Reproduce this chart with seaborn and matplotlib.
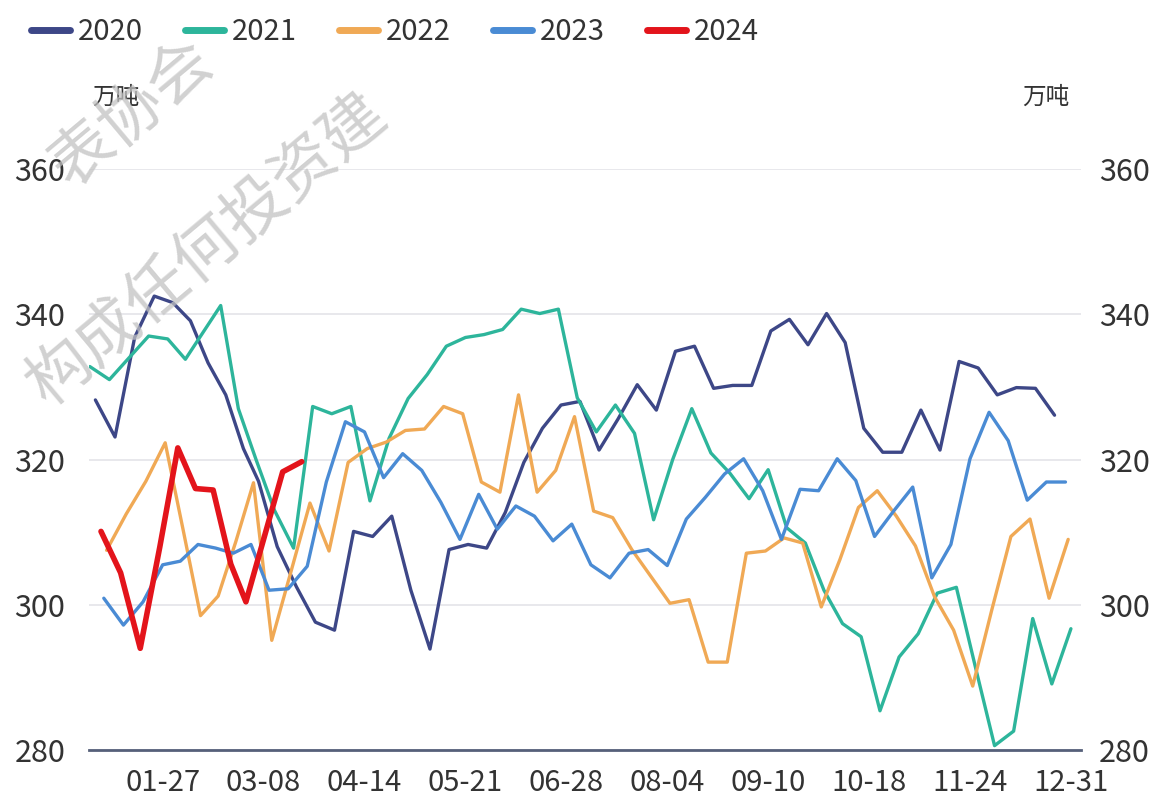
import numpy as np
import pandas as pd
import matplotlib
matplotlib.use("Agg")
import matplotlib.pyplot as plt
import seaborn as sns

YEARS = ["2020", "2021", "2022", "2023", "2024"]
COLORS = {"2020": "#3d4787", "2021": "#2db59b", "2022": "#f0a955",
          "2023": "#4a8bd4", "2024": "#e3141b"}
WIDTHS = {"2020": 2.4, "2021": 2.4, "2022": 2.4, "2023": 2.4, "2024": 4.0}

# category axis labels (evenly spaced) and the day-of-year they stand for
TICK_LABELS = ["01-27", "03-08", "04-14", "05-21", "06-28", "08-04", "09-10", "10-18", "11-24", "12-31"]
TICK_DOY = [27, 67, 104, 141, 179, 216, 253, 291, 328, 365]

# weekly (Friday) values, 万吨
V2020 = [328.2, 323.1, 336.8, 342.5, 341.6, 339.1, 333.3, 328.9, 321.5, 317.0,
         308.0, 302.5, 297.6, 296.5, 310.1, 309.4, 312.2, 302.0, 293.9, 307.6,
         308.3, 307.8, 312.7, 319.6, 324.3, 327.5, 328.0, 321.3, 325.6, 330.3,
         326.8, 334.9, 335.6, 329.8, 330.2, 330.2, 337.7, 339.3, 335.8, 340.1,
         336.1, 324.3, 321.0, 321.0, 326.8, 321.3, 333.5, 332.6, 328.9, 329.9,
         329.8, 326.1]
V2021 = [332.8, 331.0, 334.0, 337.0, 336.6, 333.8, 337.5, 341.2, 327.0, 320.0,
         313.0, 307.8, 327.3, 326.3, 327.3, 314.3, 322.9, 328.4, 331.7, 335.6,
         336.8, 337.2, 337.9, 340.7, 340.1, 340.7, 328.5, 323.8, 327.5, 323.6,
         311.7, 320.0, 327.0, 320.9, 318.1, 314.6, 318.6, 310.6, 308.5, 302.0,
         297.4, 295.6, 285.4, 292.8, 296.0, 301.6, 302.4, 291.4, 280.6, 282.6,
         298.1, 289.1, 296.7]
V2022 = [307.5, 312.5, 317.0, 322.3, 310.5, 298.5, 301.2, 308.7, 316.8, 295.1,
         304.5, 314.0, 307.4, 319.6, 321.5, 322.4, 324.0, 324.2, 327.3, 326.3,
         316.9, 315.5, 328.9, 315.5, 318.5, 325.9, 312.9, 312.0, 307.6, 303.9,
         300.2, 300.7, 292.1, 292.1, 307.1, 307.4, 309.2, 308.5, 299.7, 306.2,
         313.4, 315.7, 312.2, 308.1, 301.1, 296.5, 288.8, 299.3, 309.4, 311.8,
         300.9, 309.0]
V2023 = [300.9, 297.2, 300.4, 305.5, 306.0, 308.3, 307.8, 307.1, 308.3, 302.0,
         302.2, 305.3, 316.9, 325.2, 323.8, 317.5, 320.8, 318.5, 314.1, 309.0,
         315.2, 310.4, 313.6, 312.2, 308.8, 311.1, 305.5, 303.7, 307.1, 307.6,
         305.4, 311.8, 314.8, 318.0, 320.1, 315.7, 309.0, 315.9, 315.7, 320.1,
         317.1, 309.4, 312.9, 316.2, 303.7, 308.3, 320.1, 326.5, 322.6, 314.4,
         316.9, 316.9]
V2024 = [310.1, 304.4, 294.0, 308.0, 321.6, 316.0, 315.8, 305.6, 300.4, 309.0,
         318.3, 319.7]

SERIES = {"2020": V2020, "2021": V2021, "2022": V2022, "2023": V2023, "2024": V2024}

sns.set_theme(style="white")
plt.rcParams["font.family"] = ["Noto Sans CJK SC", "DejaVu Sans"]


def category_pos(dates):
    doy = dates.dayofyear - ((dates.is_leap_year) & (dates.month > 2)).astype(int)
    return np.interp(doy, [0] + TICK_DOY, [-0.75] + list(range(len(TICK_DOY))))


frames = []
for y in YEARS:
    vals = SERIES[y]
    dates = pd.date_range(f"{y}-01-01", periods=len(vals), freq="W-FRI")
    frames.append(pd.DataFrame({"year": y, "pos": category_pos(dates), "value": vals}))
df = pd.concat(frames, ignore_index=True)

fig = plt.figure(figsize=(11.53, 8.06), dpi=100)
ax = fig.add_axes([89 / 1153, 56 / 806, 992 / 1153, 581 / 806])

for y in YEARS:
    sns.lineplot(data=df[df["year"] == y], x="pos", y="value", color=COLORS[y],
                 linewidth=WIDTHS[y], label=y, ax=ax, legend=False)

ax.set_xlim(-0.73, 9.1)
ax.set_ylim(280, 360)
ax.set_yticks(range(280, 361, 20))
ax.set_xticks(range(len(TICK_LABELS)))
ax.set_xticklabels(TICK_LABELS)
ax.set_xlabel("")
ax.set_ylabel("")
ax.yaxis.grid(True, color="#e6e6ea", linewidth=1.3)
ax.set_axisbelow(True)
for s in ["top", "left", "right"]:
    ax.spines[s].set_visible(False)
ax.spines["bottom"].set_color("#56607a")
ax.spines["bottom"].set_linewidth(2)
ax.tick_params(axis="y", length=0, pad=17, labelsize=22, labelcolor="#333333")
ax.tick_params(axis="x", length=0, pad=13, labelsize=21, labelcolor="#333333")

ax2 = ax.twinx()
ax2.set_ylim(280, 360)
ax2.set_yticks(range(280, 361, 20))
for s in ax2.spines.values():
    s.set_visible(False)
ax2.tick_params(axis="y", length=0, pad=13, labelsize=22, labelcolor="#333333")
ax2.grid(False)

fig.text(116 / 1153, 1 - 97 / 806, "万吨", ha="center", va="center", fontsize=17, color="#333333")
fig.text(1046 / 1153, 1 - 97 / 806, "万吨", ha="center", va="center", fontsize=17, color="#333333")

handles = [plt.Line2D([], [], color=COLORS[y], linewidth=5) for y in YEARS]
leg = fig.legend(handles, YEARS, loc="center left", bbox_to_anchor=(31 / 1153, 1 - 32 / 806),
                 ncol=5, frameon=False, fontsize=21, handlelength=1.33, handletextpad=0.27,
                 columnspacing=1.45, borderpad=0, borderaxespad=0)
for t in leg.get_texts():
    t.set_color("#333333")

# watermark
wm = dict(fontsize=46, color="#c2c2c2", alpha=0.75, rotation=40, ha="center", va="center",
          family=["Noto Sans CJK SC", "DejaVu Sans"], zorder=10)
fig.text(132 / 1153, 1 - 114 / 806, "表协会", **wm)
fig.text(208 / 1153, 1 - 250 / 806, "构成任何投资建", **wm)

fig.savefig("out.png", dpi=100)
